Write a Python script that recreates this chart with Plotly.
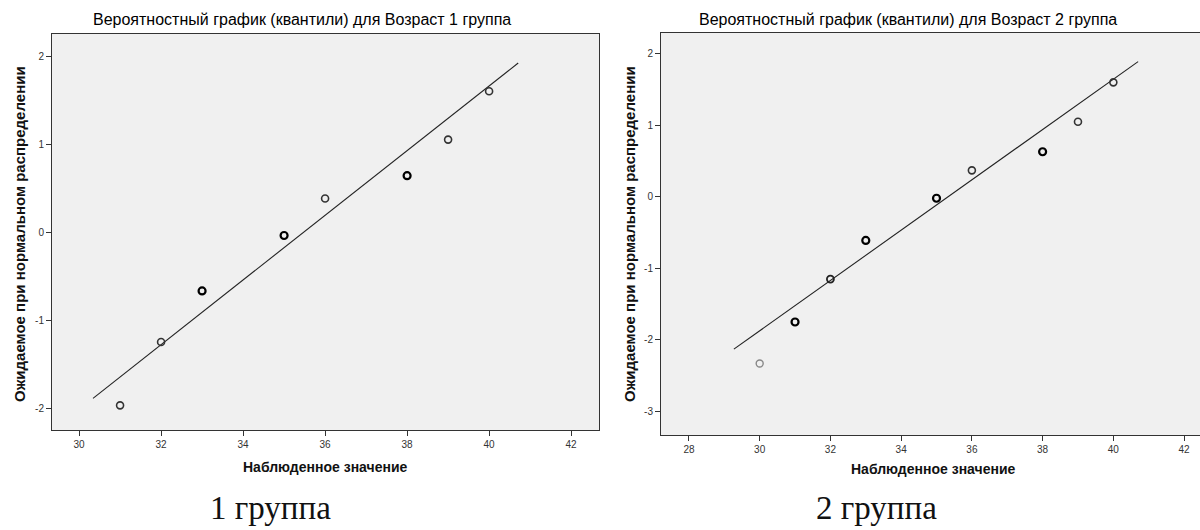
import plotly.graph_objects as go

# ---------------- data ----------------
g1_observed = [31, 32, 33, 35, 36, 38, 39, 40]
g1_expected = [-1.97, -1.25, -0.67, -0.04, 0.38, 0.64, 1.05, 1.60]
g1_line_x = [30.34, 40.71]
g1_line_y = [-1.89, 1.92]

g2_observed = [30, 31, 32, 33, 35, 36, 38, 39, 40]
g2_expected = [-2.33, -1.75, -1.15, -0.61, -0.02, 0.37, 0.63, 1.05, 1.60]
g2_line_x = [29.27, 40.70]
g2_line_y = [-2.13, 1.89]

g1_xticks = [30, 32, 34, 36, 38, 40, 42]
g1_yticks = [-2, -1, 0, 1, 2]
g1_ylabels = ["-2", "-1", "0", "1", "2"]
g2_xticks = [28, 30, 32, 34, 36, 38, 40, 42]
g2_yticks = [-3, -2, -1, 0, 1, 2]
g2_ylabels = ["-3", "-2", "-1", "0", "1", "2"]

title1 = "Вероятностный график (квантили) для Возраст 1 группа"
title2 = "Вероятностный график (квантили) для Возраст 2 группа"
ytitle = "Ожидаемое при нормальном распределении"
xtitle = "Наблюденное значение"
caption1 = "1 группа"
caption2 = "2 группа"

# marker emphasis (overplotted points look heavier in the original)
g1_mcolor = ["#333", "#333", "#000", "#000", "#333", "#000", "#333", "#333"]
g1_mwidth = [1.6, 1.6, 2.2, 2.2, 1.6, 2.2, 1.6, 1.6]
g2_mcolor = ["#888", "#000", "#222", "#000", "#000", "#333", "#000", "#333", "#333"]
g2_mwidth = [1.4, 2.2, 1.8, 2.2, 2.2, 1.6, 2.2, 1.6, 1.6]

W, H = 1200, 530
fig = go.Figure()

fig.add_trace(go.Scatter(x=g1_line_x, y=g1_line_y, mode="lines",
                         line=dict(color="#222", width=1.1), xaxis="x", yaxis="y",
                         showlegend=False, hoverinfo="skip"))
fig.add_trace(go.Scatter(x=g1_observed, y=g1_expected, mode="markers",
                         marker=dict(symbol="circle-open", size=7,
                                     color=g1_mcolor,
                                     line=dict(color=g1_mcolor, width=g1_mwidth)),
                         xaxis="x", yaxis="y", showlegend=False))
fig.add_trace(go.Scatter(x=g2_line_x, y=g2_line_y, mode="lines",
                         line=dict(color="#222", width=1.1), xaxis="x2", yaxis="y2",
                         showlegend=False, hoverinfo="skip"))
fig.add_trace(go.Scatter(x=g2_observed, y=g2_expected, mode="markers",
                         marker=dict(symbol="circle-open", size=7,
                                     color=g2_mcolor,
                                     line=dict(color=g2_mcolor, width=g2_mwidth)),
                         xaxis="x2", yaxis="y2", showlegend=False))

def px(v):
    return v / W

def py(v):
    return 1 - v / H

tickfont = dict(family="Liberation Sans, Arial, sans-serif", size=10, color="#333")
common_axis = dict(showgrid=False, zeroline=False, showline=True, linecolor="#333",
                   linewidth=1, ticks="outside", ticklen=5, tickcolor="#333",
                   tickwidth=1, tickfont=tickfont, fixedrange=True)

fig.update_layout(
    xaxis=dict(domain=[px(52), px(599)], range=[29.34, 42.68], tickvals=g1_xticks,
               anchor="y", mirror=True, **common_axis),
    yaxis=dict(domain=[py(430), py(34)], range=[-2.25, 2.25], tickvals=g1_yticks,
               ticktext=g1_ylabels, anchor="x", mirror=True, **common_axis),
    xaxis2=dict(domain=[px(661), 1.0], range=[27.21, 42.45], tickvals=g2_xticks,
                anchor="y2", mirror=True, **common_axis),
    yaxis2=dict(domain=[py(435), py(33)], range=[-3.33, 2.29], tickvals=g2_yticks,
                ticktext=g2_ylabels, anchor="x2", mirror=False, **common_axis),
)

titlefont = dict(family="Liberation Sans, Arial, sans-serif", size=16, color="#000")
yfont = dict(family="Liberation Sans, Arial, sans-serif", size=15, color="#111")
xfont = dict(family="Liberation Sans, Arial, sans-serif", size=14, color="#111")
capfont = dict(family="Liberation Serif, Times New Roman, serif", size=33, color="#111")

ann = []
ann.append(dict(text=title1, x=px(302), y=py(20), xref="paper", yref="paper",
                showarrow=False, font=titlefont, xanchor="center", yanchor="middle"))
ann.append(dict(text=title2, x=px(908), y=py(20), xref="paper", yref="paper",
                showarrow=False, font=titlefont, xanchor="center", yanchor="middle"))
ann.append(dict(text="<b>" + ytitle + "</b>", x=px(19), y=py(234), xref="paper", yref="paper",
                showarrow=False, font=yfont, textangle=-90, xanchor="center", yanchor="middle"))
ann.append(dict(text="<b>" + ytitle + "</b>", x=px(629), y=py(234), xref="paper", yref="paper",
                showarrow=False, font=yfont, textangle=-90, xanchor="center", yanchor="middle"))
ann.append(dict(text="<b>" + xtitle + "</b>", x=px(325), y=py(467), xref="paper", yref="paper",
                showarrow=False, font=xfont, xanchor="center", yanchor="middle"))
ann.append(dict(text="<b>" + xtitle + "</b>", x=px(933), y=py(469), xref="paper", yref="paper",
                showarrow=False, font=xfont, xanchor="center", yanchor="middle"))
ann.append(dict(text=caption1, x=px(270), y=py(508), xref="paper", yref="paper",
                showarrow=False, font=capfont, xanchor="center", yanchor="middle"))
ann.append(dict(text=caption2, x=px(876), y=py(508), xref="paper", yref="paper",
                showarrow=False, font=capfont, xanchor="center", yanchor="middle"))

fig.update_layout(
    width=W, height=H, margin=dict(l=0, r=0, t=0, b=0),
    paper_bgcolor="white", plot_bgcolor="#f0f0f0",
    annotations=ann, showlegend=False,
)

fig.write_html("out.html", config={"displayModeBar": False})
